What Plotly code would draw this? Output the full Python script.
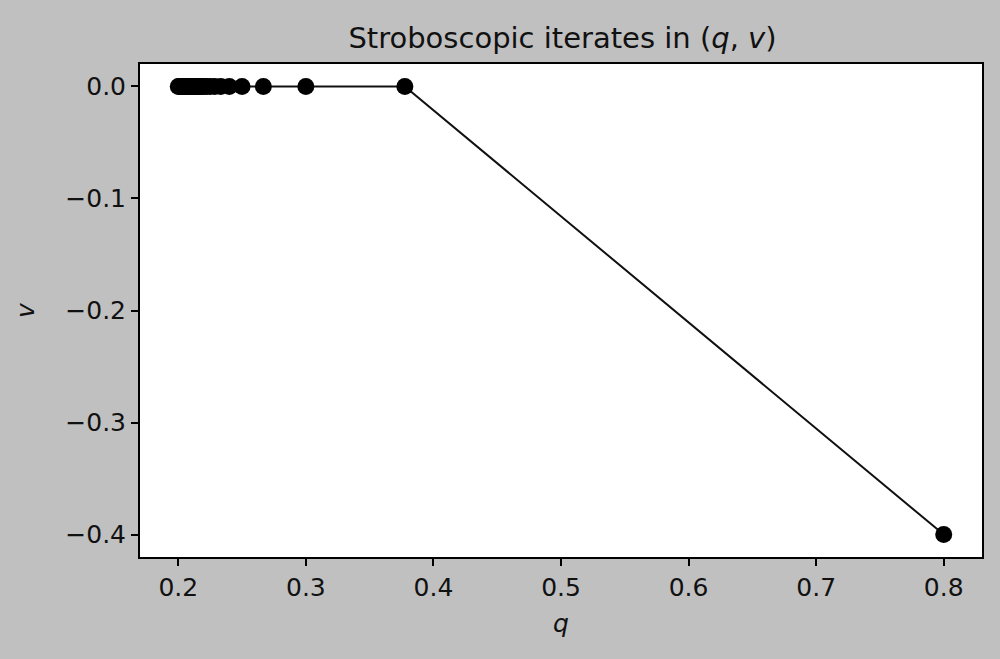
import plotly.graph_objects as go

# Stroboscopic iterates
q_vals = [0.8, 0.3776, 0.3, 0.2667, 0.25, 0.24, 0.2333, 0.2286, 0.225, 0.2222,
          0.22, 0.2182, 0.2167, 0.2154, 0.2143, 0.2133, 0.2125, 0.2118, 0.2111,
          0.2105, 0.21, 0.2091, 0.208, 0.207, 0.206, 0.205, 0.204, 0.203, 0.202,
          0.201, 0.2]
v_vals = [-0.4] + [0.0] * (len(q_vals) - 1)

x_ticks = [0.2, 0.3, 0.4, 0.5, 0.6, 0.7, 0.8]
x_labels = ["0.2", "0.3", "0.4", "0.5", "0.6", "0.7", "0.8"]
y_ticks = [0.0, -0.1, -0.2, -0.3, -0.4]
y_labels = ["0.0", "\u22120.1", "\u22120.2", "\u22120.3", "\u22120.4"]

BG = "#c0c0c0"
FONT = "DejaVu Sans"

fig = go.Figure()

fig.add_trace(go.Scatter(
    x=q_vals,
    y=v_vals,
    mode="lines+markers",
    line=dict(color="#111111", width=2),
    marker=dict(color="black", size=17),
    showlegend=False,
))

axis_common = dict(
    showgrid=False,
    zeroline=False,
    showline=True,
    linecolor="black",
    linewidth=2,
    mirror=True,
    ticks="outside",
    ticklen=7,
    tickwidth=1.5,
    tickcolor="black",
    tickfont=dict(size=25, color="#111111", family=FONT),
)

fig.update_layout(
    width=1000,
    height=659,
    paper_bgcolor=BG,
    plot_bgcolor="white",
    margin=dict(l=140, r=18, t=64, b=102),
    font=dict(family=FONT, color="#111111"),
    title=dict(
        text="Stroboscopic iterates in (<i>q</i>, <i>v</i>)",
        x=0.5625, xanchor="center", y=0.942, yanchor="middle",
        font=dict(size=29, family=FONT, color="#111111"),
    ),
    xaxis=dict(
        axis_common,
        range=[0.17, 0.83],
        tickvals=x_ticks,
        ticktext=x_labels,
        title=dict(text="<i>q</i>", font=dict(size=25), standoff=13),
    ),
    yaxis=dict(
        axis_common,
        range=[-0.42, 0.02],
        tickvals=y_ticks,
        ticktext=y_labels,
        title=dict(text="<i>v</i>", font=dict(size=25), standoff=24),
    ),
)

# drop the page's default body margin so the figure fills the window
fig.write_html(
    "out.html",
    config={"displayModeBar": False},
    post_script="document.body.style.margin='0';"
                "document.body.style.background='" + BG + "';",
)
